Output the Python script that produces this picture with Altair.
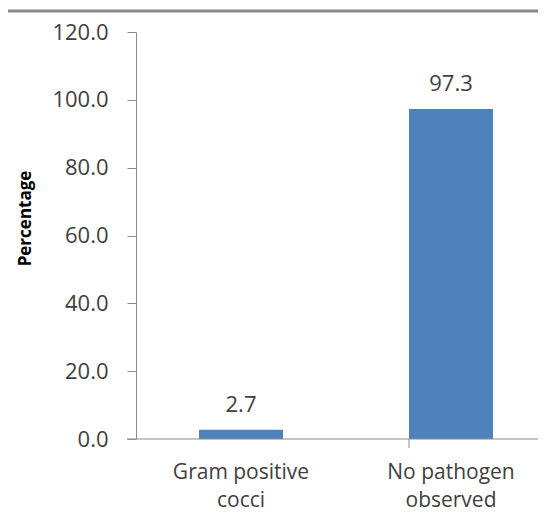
import altair as alt
import pandas as pd

categories = ["Gram positive\ncocci", "No pathogen\nobserved"]
values = [2.7, 97.3]
labels = ["2.7", "97.3"]
y_ticks = [0, 20, 40, 60, 80, 100, 120]

df = pd.DataFrame({"cat": categories, "val": values, "lab": labels})

W, H = 402, 407
FONT = "Open Sans"
TXT = "#404040"
AX = "#8c8c8c"

x_enc = alt.X("cat:N", sort=categories, title=None,
              scale=alt.Scale(range=[0, 420], paddingInner=0.6, paddingOuter=0.3),
              axis=alt.Axis(labelExpr="split(datum.label, '\\n')", labelAngle=0,
                            ticks=False, domain=False, labelFont=FONT, labelFontSize=21,
                            labelColor=TXT, labelPadding=22, labelLineHeight=28))
y_enc = alt.Y("val:Q", title="Percentage",
              scale=alt.Scale(domain=[0, 120], nice=False),
              axis=alt.Axis(values=y_ticks, format=".1f", grid=False, tickSize=9,
                            tickColor=AX, domainColor=AX, labelFont=FONT,
                            labelFontSize=22, labelColor=TXT, labelPadding=19,
                            titleFont=FONT, titleFontSize=17,
                            titleFontWeight="bold", titleColor="#000000",
                            titleX=-111, titleY=186, titleAlign="center",
                            titleBaseline="middle", titleAngle=270))

bars = alt.Chart(df).mark_bar(color="#4F81BD").encode(x=x_enc, y=y_enc)
text = alt.Chart(df).mark_text(baseline="alphabetic", dy=-18, font=FONT, fontSize=22,
                               color=TXT).encode(x=alt.X("cat:N", sort=categories),
                                                 y="val:Q", text="lab:N")

sep = alt.Chart(pd.DataFrame({"cat": [categories[1]]})).mark_rule(
    color=AX, strokeWidth=1).encode(
    x=alt.X("cat:N", sort=categories, bandPosition=0),
    y=alt.value(H), y2=alt.value(H + 9))

xline = alt.Chart(pd.DataFrame({"a": [0]})).mark_rule(color=AX, strokeWidth=1).encode(
    x=alt.value(-9), x2=alt.value(W + 10), y=alt.value(H))

border = alt.Chart(pd.DataFrame({"a": [0]})).mark_rule(color="#8a8a8a", strokeWidth=3).encode(
    x=alt.value(-140), x2=alt.value(W + 10), y=alt.value(-21))

chart = alt.layer(bars, text, sep, xline, border).properties(
    width=W, height=H,
    padding={"left": 128, "top": 24, "right": 0, "bottom": 76},
    autosize="none",
).configure_view(stroke=None)

chart.save("out.html", embed_options={"renderer": "svg", "actions": False})
